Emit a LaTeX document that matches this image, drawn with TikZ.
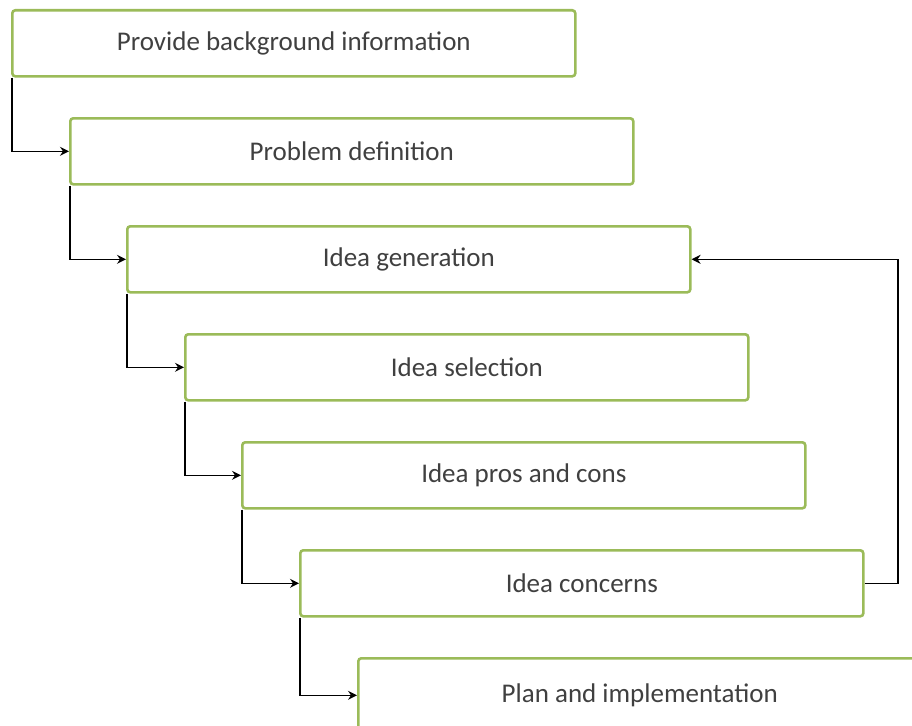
\documentclass[tikz,border=0pt]{standalone}
\usepackage{fontspec}
\setmainfont{Carlito}
\usetikzlibrary{arrows.meta}
\definecolor{boxgreen}{HTML}{9BBB59}
\definecolor{txtgrey}{HTML}{404040}
\tikzset{
  stepbox/.style={draw=boxgreen, line width=2.6pt, rounded corners=3pt, fill=white,
    minimum width=563pt, minimum height=66pt, inner sep=0pt, anchor=north west,
    font=\fontsize{27}{30}\selectfont, text=txtgrey},
  conn/.style={draw=black, line width=1.3pt, -{Stealth[length=9pt,width=9pt,inset=3pt]}}
}
\begin{document}
\begin{tikzpicture}[x=1pt,y=-1pt]
\useasboundingbox (0,0) rectangle (912,725);
\node[stepbox] (b1) at (11,9) {Provide background information};
\node[stepbox] (b2) at (69,117) {Problem definition};
\node[stepbox] (b3) at (126,225) {Idea generation};
\node[stepbox] (b4) at (184,333) {Idea selection};
\node[stepbox] (b5) at (241,441) {Idea pros and cons};
\node[stepbox] (b6) at (299,549) {Idea concerns};
\node[stepbox, minimum height=74pt] (b7) at (357,657) {Plan and implementation};
\draw[conn] ([xshift=1pt]b1.south west) |- (b2.west);
\draw[conn] ([xshift=1pt]b2.south west) |- (b3.west);
\draw[conn] ([xshift=1pt]b3.south west) |- (b4.west);
\draw[conn] ([xshift=1pt]b4.south west) |- (b5.west);
\draw[conn] ([xshift=1pt]b5.south west) |- (b6.west);
\draw[conn] ([xshift=1pt]b6.south west) |- (b7.west);
\coordinate (fb) at (898,0);
\draw[conn] (b6.east) -- (fb |- b6.east) -- (fb |- b3.east) -- (b3.east);
\end{tikzpicture}
\end{document}
